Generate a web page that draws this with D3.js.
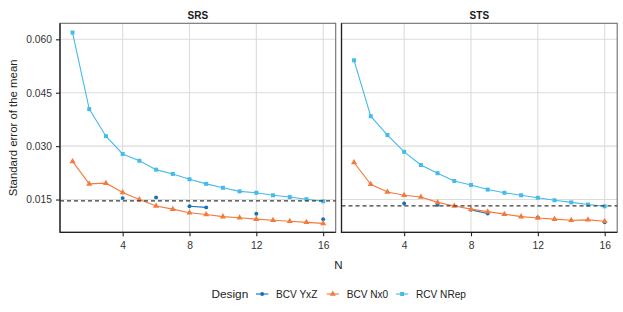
<!DOCTYPE html>
<html><head><meta charset="utf-8">
<script src="https://cdn.jsdelivr.net/npm/d3@7"></script>
<style>
body{margin:0;background:#fff;}
text{font-family:"Liberation Sans",Arial,Helvetica,sans-serif;}
</style></head>
<body><svg id="c" width="623" height="312"></svg>
<script>
const N = d3.range(1,17);
const panels = ["SRS","STS"];
const designs = ["BCV YxZ","BCV Nx0","RCV NRep"];
const xTicks = [4,8,12,16];
const yTicks = [0.015,0.030,0.045,0.060];
const yTickLabels = ["0.015","0.030","0.045","0.060"];

// SRS
const srsYxZ = [null,null,null,0.0154,null,0.0156,null,0.0131,0.0128,null,null,0.0110,null,null,null,0.0095];
const srsNx0 = [0.0257,0.0194,0.0196,0.0170,0.0150,0.0132,0.0123,0.0113,0.0108,0.0102,0.0099,0.0095,0.0092,0.0089,0.0086,0.0083];
const srsNRep = [0.0619,0.0404,0.0328,0.0278,0.0259,0.0234,0.0222,0.0207,0.0194,0.0183,0.0173,0.0169,0.0162,0.0157,0.0151,0.0145];
const srsRef = 0.0146;
// STS
const stsYxZ = [null,null,null,0.0139,null,0.0135,null,0.0121,0.0111,null,null,0.0100,null,null,null,0.0086];
const stsNx0 = [0.0254,0.0193,0.0171,0.0162,0.0157,0.0142,0.0132,0.0123,0.0116,0.0109,0.0102,0.0098,0.0095,0.0092,0.0093,0.0089];
const stsNRep = [0.0541,0.0384,0.0331,0.0284,0.0247,0.0224,0.0202,0.0191,0.0178,0.0169,0.0162,0.0155,0.0148,0.0142,0.0136,0.0131];
const stsRef = 0.0132;

const panelData = {
  SRS: {series:[srsYxZ,srsNx0,srsNRep], ref:srsRef},
  STS: {series:[stsYxZ,stsNx0,stsNRep], ref:stsRef}
};
const colors = ["#1672B6","#F47A3C","#45BAEC"];
const symbols = [d3.symbolCircle, d3.symbolTriangle, d3.symbolSquare];
const symSizes = [12, 16, 16];

const svg = d3.select("#c");
const pTop = 23.3, pBottom = 232.3;
const panelX = [[60,335.7],[341.5,617.2]];
const y = d3.scaleLinear().domain([0.0058,0.0645]).range([pBottom, pTop]);

panels.forEach((p,i)=>{
  const [x0,x1] = panelX[i];
  const x = d3.scaleLinear().domain([0.25,16.75]).range([x0,x1]);
  const g = svg.append("g");
  g.selectAll(".gy").data(yTicks).join("line")
    .attr("x1",x0).attr("x2",x1).attr("y1",d=>y(d)).attr("y2",d=>y(d))
    .attr("stroke","#dcdcdc").attr("stroke-width",1.1);
  g.selectAll(".gx").data(xTicks).join("line")
    .attr("x1",d=>x(d)).attr("x2",d=>x(d)).attr("y1",pTop).attr("y2",pBottom)
    .attr("stroke","#dcdcdc").attr("stroke-width",1.1);
  g.append("rect").attr("x",x0).attr("y",pTop).attr("width",x1-x0).attr("height",pBottom-pTop)
    .attr("fill","none").attr("stroke","#6e6e6e").attr("stroke-width",1.1);
  g.append("line").attr("x1",x0).attr("x2",x0).attr("y1",pTop).attr("y2",pBottom+0.5).attr("stroke","#222").attr("stroke-width",1.3);
  g.append("line").attr("x1",x0).attr("x2",x1).attr("y1",pBottom).attr("y2",pBottom).attr("stroke","#222").attr("stroke-width",1.3);
  const xa = d3.axisBottom(x).tickValues(xTicks).tickSize(4).tickPadding(5);
  const xg = g.append("g").attr("transform",`translate(0,${pBottom})`).call(xa);
  xg.select(".domain").remove();
  xg.selectAll("line").attr("stroke","#222").attr("stroke-width",1.1);
  xg.selectAll("text").attr("font-size","10.3px").attr("fill","#333").attr("font-family","Liberation Sans, Arial, sans-serif");
  if(i===0){
    const ya = d3.axisLeft(y).tickValues(yTicks).tickFormat((d,k)=>yTickLabels[k]).tickSize(4).tickPadding(4);
    const yg = g.append("g").attr("transform",`translate(${x0},0)`).call(ya);
    yg.select(".domain").remove();
    yg.selectAll("line").attr("stroke","#222").attr("stroke-width",1.1);
    yg.selectAll("text").attr("font-size","10.3px").attr("fill","#333").attr("font-family","Liberation Sans, Arial, sans-serif");
  }
  g.append("text").attr("x",(x0+x1)/2).attr("y",15).attr("dy","0.35em").attr("text-anchor","middle")
    .attr("font-size","10px").attr("font-weight","bold").attr("fill","#1a1a1a").text(p);
  const pd = panelData[p];
  pd.series.forEach((vals,s)=>{
    const pts = N.map((n,k)=>({n, v:vals[k]}));
    const line = d3.line().defined(d=>d.v!=null).x(d=>x(d.n)).y(d=>y(d.v));
    g.append("path").attr("d",line(pts)).attr("fill","none").attr("stroke",colors[s]).attr("stroke-width",1.1);
    g.selectAll(null).data(pts.filter(d=>d.v!=null)).join("path")
      .attr("transform",d=>`translate(${x(d.n)},${y(d.v)})`)
      .attr("d",d3.symbol().type(symbols[s]).size(symSizes[s])).attr("fill",colors[s]);
  });
  g.append("line").attr("x1",x0).attr("x2",x1).attr("y1",y(pd.ref)).attr("y2",y(pd.ref))
    .attr("stroke","#3a3a3a").attr("stroke-width",1.2).attr("stroke-dasharray","4,3");
});

svg.append("text").attr("x",338.5).attr("y",265).attr("dy","0.35em").attr("text-anchor","middle")
  .attr("font-size","11.5px").attr("fill","#222").text("N");
svg.append("text").attr("transform",`translate(13,${(pTop+pBottom)/2}) rotate(-90)`).attr("dy","0.35em")
  .attr("text-anchor","middle").attr("font-size","11.4px").attr("fill","#222").text("Standard error of the mean");

const ly = 294;
svg.append("text").attr("x",211.5).attr("y",ly).attr("dy","0.35em").attr("font-size","11.8px").attr("fill","#222").text("Design");
const keyX = [256,326.7,396];
designs.forEach((d,s)=>{
  const kx = keyX[s];
  svg.append("line").attr("x1",kx).attr("x2",kx+12.3).attr("y1",ly).attr("y2",ly).attr("stroke",colors[s]).attr("stroke-width",1.1);
  svg.append("path").attr("transform",`translate(${kx+6.15},${ly})`).attr("d",d3.symbol().type(symbols[s]).size(symSizes[s])).attr("fill",colors[s]);
  svg.append("text").attr("x",kx+20).attr("y",ly).attr("dy","0.35em").attr("font-size","10.1px").attr("fill","#222").text(d);
});
</script></body></html>
